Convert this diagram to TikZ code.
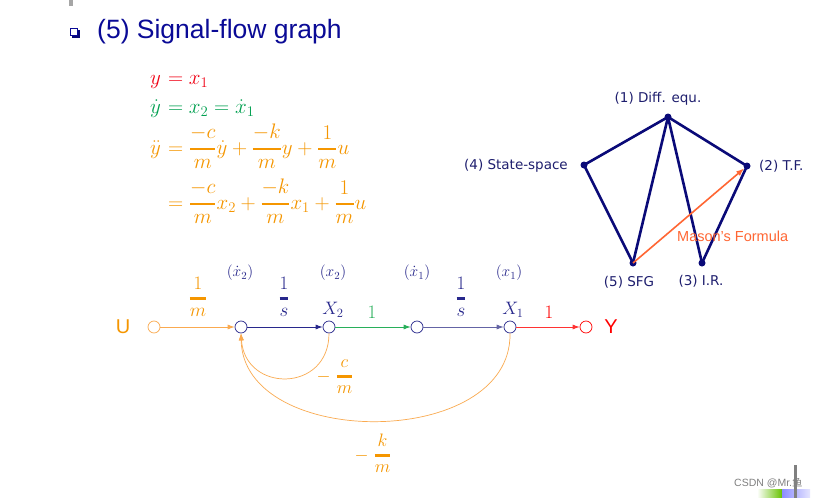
\RequirePackage{fix-cm}
\documentclass[tikz,border=0pt]{standalone}
\usepackage{amsmath}
\usepackage{fontspec}
\setmainfont{Liberation Sans}
\newfontfamily\dvs{DejaVu Sans}
\newfontfamily\cjk{Noto Sans CJK SC}
\usetikzlibrary{arrows.meta}
\definecolor{titleblue}{RGB}{10,10,150}
\definecolor{pnavy}{RGB}{10,10,120}
\definecolor{labnavy}{RGB}{30,30,110}
\definecolor{eqred}{RGB}{240,0,20}
\definecolor{eqgreen}{RGB}{0,160,80}
\definecolor{eqorange}{RGB}{245,150,0}
\definecolor{lorange}{RGB}{250,170,80}
\definecolor{mason}{RGB}{255,102,51}
\definecolor{sfgnavy}{RGB}{40,40,140}
\definecolor{sfggray}{RGB}{100,100,165}
\definecolor{sgreen}{RGB}{40,175,90}
\newcommand\msz[1]{\fontsize{#1}{#1}\selectfont}
\newcommand\Bfrac[2]{\genfrac{}{}{2.5pt}{0}{#1}{#2}}
\begin{document}
\begin{tikzpicture}[x=1pt,y=-1pt,
  dot/.style={circle,fill=pnavy,inner sep=0pt,minimum size=7pt},
  pedge/.style={draw=pnavy,line width=2.6pt,line cap=round},
  plab/.style={font=\dvs\fontsize{13.5}{15}\selectfont,text=labnavy,inner sep=0pt},
  sn/.style={circle,draw=sfgnavy,fill=white,inner sep=0pt,minimum size=12pt,line width=0.7pt},
  sarrow/.style={-{Latex[length=7pt,width=5pt]},line width=0.7pt},
  mlab/.style={inner sep=0pt,anchor=base}]
\useasboundingbox (0,0) rectangle (823,498);
\fill[white] (0,0) rectangle (823,498);
% decorations
\fill[gray!70] (69,0) rectangle (73,6);
\node[fill=pnavy,minimum size=8pt,inner sep=0pt] (bsh) at (75.5,33.5) {};
\node[draw=titleblue,fill=white,line width=1pt,minimum size=7pt,inner sep=0pt] (bul) at (74,32) {};
\node[anchor=base west,text=titleblue,font=\fontsize{26.5}{30}\selectfont,inner sep=0pt] (title) at (97,38) {(5) Signal-flow graph};
% equations
\node[anchor=base east,inner sep=0pt,text=eqred] (e1l) at (161,84) {\msz{21}$y$};
\node[anchor=base west,inner sep=0pt,text=eqred] (e1r) at (162,84) {\msz{21}${}=x_1$};
\node[anchor=base east,inner sep=0pt,text=eqgreen] (e2l) at (161,113) {\msz{21}$\dot y$};
\node[anchor=base west,inner sep=0pt,text=eqgreen] (e2r) at (162,113) {\msz{21}${}=x_2=\dot{x}_1$};
\node[anchor=base east,inner sep=0pt,text=eqorange] (e3l) at (161,154) {\msz{21}$\ddot y$};
\node[anchor=base west,inner sep=0pt,text=eqorange] (e3r) at (162,154) {\msz{21}${}=\Bfrac{-c}{m}\dot y+\Bfrac{-k}{m}y+\Bfrac{1}{m}u$};
\node[anchor=base west,inner sep=0pt,text=eqorange] (e4r) at (162,209) {\msz{21}${}=\Bfrac{-c}{m}x_2+\Bfrac{-k}{m}x_1+\Bfrac{1}{m}u$};
% pentagon
\node[dot] (p1) at (668,117) {};
\node[dot] (p4) at (584,165) {};
\node[dot] (p2) at (747,166) {};
\node[dot] (p5) at (633,263) {};
\node[dot] (p3) at (702,263) {};
\draw[pedge] (p1.center) -- (p4.center);
\draw[pedge] (p1.center) -- (p2.center);
\draw[pedge] (p1.center) -- (p5.center);
\draw[pedge] (p1.center) -- (p3.center);
\draw[pedge] (p4.center) -- (p5.center);
\draw[pedge] (p3.center) -- (p2.center);
\draw[draw=mason,line width=1.6pt,-{Latex[length=8pt,width=6pt]}] (p5.center) -- (p2);
\node[plab] (l1) at (658,99) {(1) Diff. equ.};
\node[plab,anchor=east] (l4) at (568,166) {(4) State-space};
\node[plab,anchor=west] (l2) at (759,166) {(2) T.F.};
\node[plab] (l5) at (629,282) {(5) SFG};
\node[plab] (l3) at (701,281) {(3) I.R.};
\node[text=mason,font=\fontsize{14.5}{16}\selectfont,anchor=west,inner sep=0pt] (mf) at (677,236) {Mason’s Formula};
% signal flow graph
\node[sn,draw=lorange] (U) at (154,327) {};
\node[sn] (n1) at (241,327) {};
\node[sn] (n2) at (329,327) {};
\node[sn] (n3) at (417,327) {};
\node[sn] (n4) at (510,327) {};
\node[sn,draw=red] (Y) at (586,327) {};
\node[text=eqorange,font=\fontsize{20}{22}\selectfont,inner sep=0pt] (Ut) at (123,327) {U};
\node[text=red,font=\fontsize{20}{22}\selectfont,inner sep=0pt] (Yt) at (611,327) {Y};
\draw[sarrow,draw=lorange] (U) -- (n1);
\draw[sarrow,draw=sfgnavy] (n1) -- (n2);
\draw[sarrow,draw=sgreen] (n2) -- (n3);
\draw[sarrow,draw=sfggray] (n3) -- (n4);
\draw[sarrow,draw=red!80] (n4) -- (Y);
\draw[sarrow,draw=lorange] (n2.south) .. controls (329,393) and (245,393) .. (n1.south);
\draw[sarrow,draw=lorange] (n4.south) .. controls (512,450) and (243,450) .. (n1.south);
% labels
\node[mlab,text=eqorange] (g1) at (198,303) {\msz{19}$\Bfrac{1}{m}$};
\node[mlab,text=sfgnavy] (g2) at (284,303) {\msz{19}$\Bfrac{1}{s}$};
\node[mlab,text=sfgnavy] (g4) at (461,303) {\msz{19}$\Bfrac{1}{s}$};
\node[inner sep=0pt,text=sfgnavy] (X2) at (333,310) {\msz{18}$X_2$};
\node[inner sep=0pt,text=sfgnavy] (X1) at (513,310) {\msz{18}$X_1$};
\node[inner sep=0pt,text=sgreen] (g3) at (372,312) {\msz{19}$1$};
\node[inner sep=0pt,text=red] (g5) at (549,312) {\msz{19}$1$};
\node[inner sep=0pt,text=sfgnavy] (s1) at (240,273) {\msz{15.5}$(\dot{x}_2)$};
\node[inner sep=0pt,text=sfgnavy] (s2) at (333,273) {\msz{15.5}$(x_2)$};
\node[inner sep=0pt,text=sfgnavy] (s3) at (417,273) {\msz{15.5}$(\dot{x}_1)$};
\node[inner sep=0pt,text=sfgnavy] (s4) at (509,273) {\msz{15.5}$(x_1)$};
\node[mlab,text=eqorange] (fc) at (335,381) {\msz{18}$-\;\Bfrac{c}{m}$};
\node[mlab,text=eqorange] (fk) at (373,460) {\msz{18}$-\;\Bfrac{k}{m}$};
% watermark
\shade[left color=white,right color=green!60!black!60!yellow] (757,489) rectangle (782,497);
\shade[left color=blue!45,right color=blue!10] (782,489) rectangle (810,497);
\node[anchor=west,inner sep=0pt,text=gray,font=\fontsize{10.5}{12}\selectfont] (wm) at (734,483) {CSDN @Mr.{\cjk 鱼}};
\fill[gray] (794,465) rectangle (797,498);
\end{tikzpicture}
\end{document}
